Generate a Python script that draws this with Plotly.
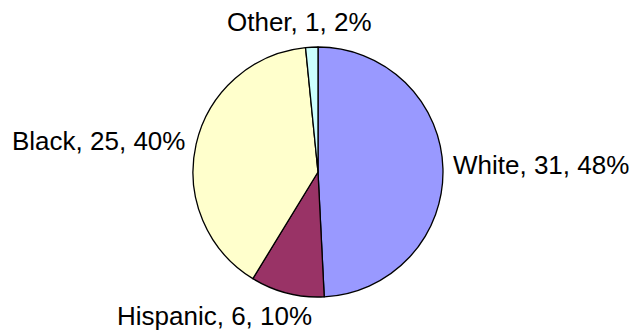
import plotly.graph_objects as go

categories = ["White", "Hispanic", "Black", "Other"]
counts = [31, 6, 25, 1]
percents = [48, 10, 40, 2]
colors = ["#9999FF", "#993366", "#FFFFCC", "#CCFFFF"]

W, H = 629, 330

fig = go.Figure(go.Pie(
    labels=categories,
    values=counts,
    textinfo="none",
    sort=False,
    direction="clockwise",
    rotation=0,
    marker=dict(colors=colors, line=dict(color="black", width=1.3)),
    domain=dict(x=[193/W, 443/W], y=[33/H, 283/H]),
    showlegend=False,
    hoverinfo="skip",
))

# label placement (pixel positions of label anchors, Excel-style)
label_pos = {
    "White":    dict(x=452, y=165, xanchor="left"),
    "Hispanic": dict(x=214, y=316, xanchor="center"),
    "Black":    dict(x=186, y=141, xanchor="right"),
    "Other":    dict(x=299.5, y=21.5, xanchor="center"),
}

annotations = []
for cat, n, p in zip(categories, counts, percents):
    pos = label_pos[cat]
    annotations.append(dict(
        text=f"{cat}, {n}, {p}%",
        x=pos["x"] / W, y=1 - pos["y"] / H,
        xref="paper", yref="paper",
        xanchor=pos["xanchor"], yanchor="middle",
        showarrow=False, borderpad=0,
        font=dict(family="Liberation Sans, Arial, sans-serif", size=26, color="black"),
    ))

fig.update_layout(
    width=W, height=H,
    margin=dict(l=0, r=0, t=0, b=0),
    paper_bgcolor="white",
    plot_bgcolor="white",
    annotations=annotations,
)

fig.write_html("out.html", config={"displayModeBar": False})

# remove default page margin so the figure fills the window exactly
with open("out.html", "r", encoding="utf-8") as f:
    html = f.read()
html = html.replace("<head>", "<head><style>html,body{margin:0;padding:0;overflow:hidden;}</style>", 1)
with open("out.html", "w", encoding="utf-8") as f:
    f.write(html)
